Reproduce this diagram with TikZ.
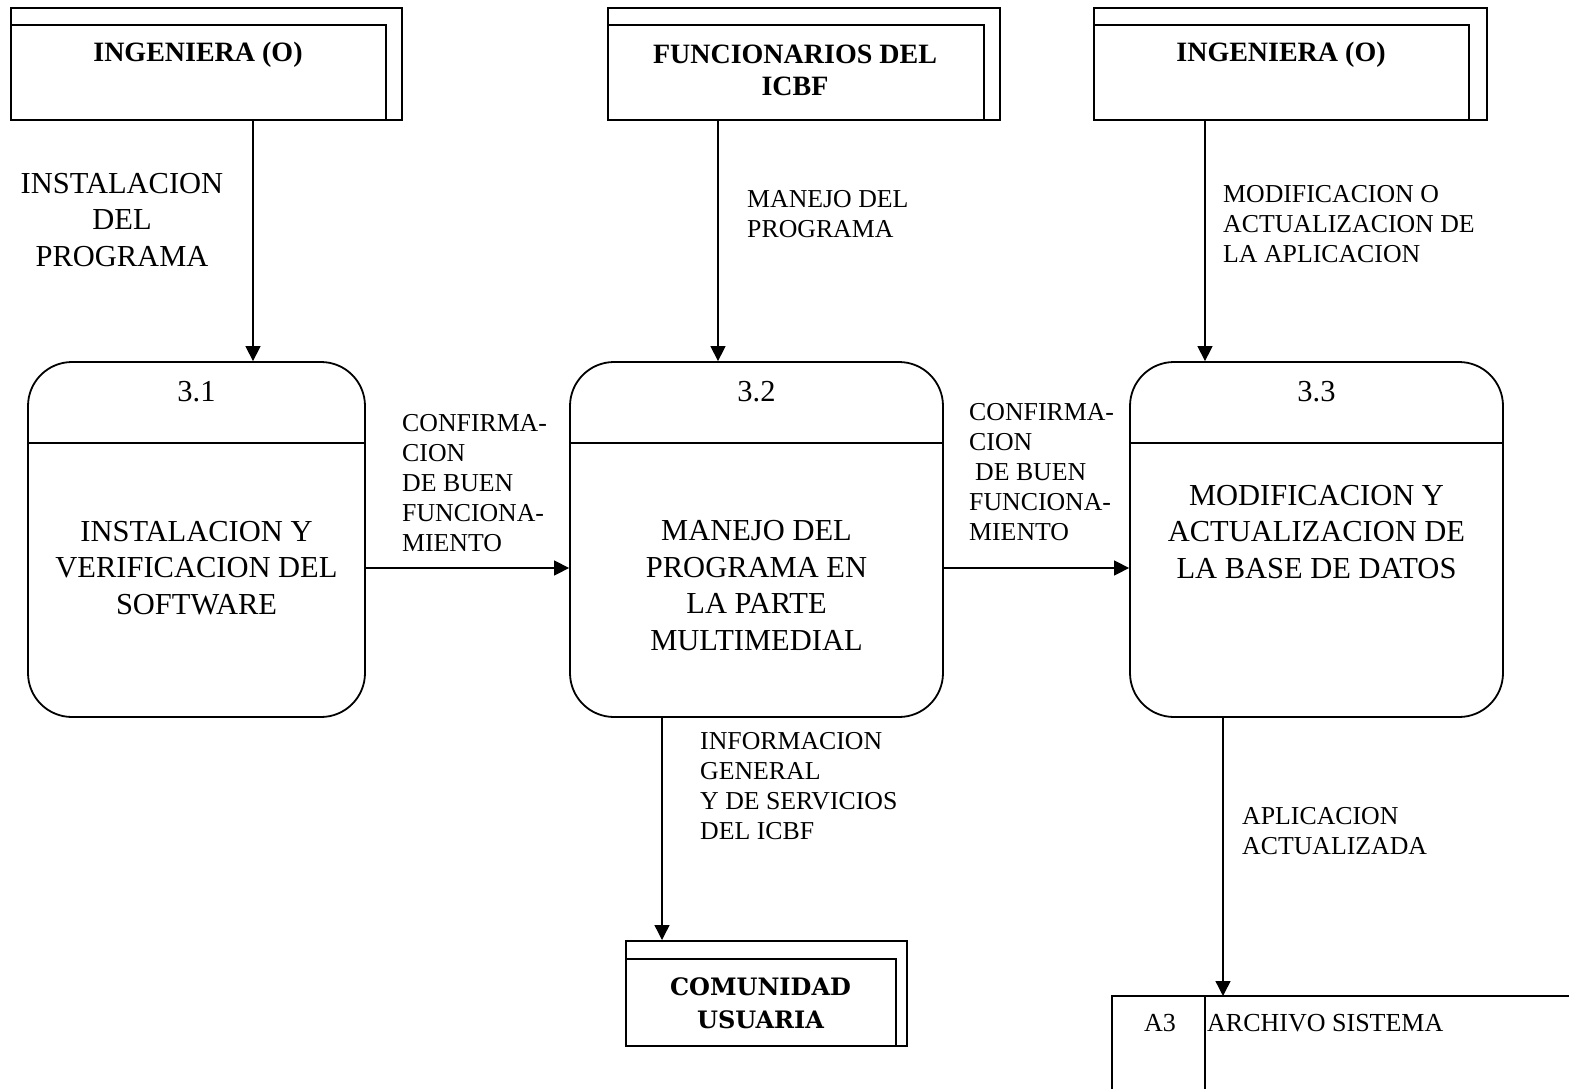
\documentclass[tikz,border=0pt]{standalone}
\usepackage{fontspec}
\setmainfont{Liberation Serif}
\newfontfamily\comfont{DejaVu Serif}
\usetikzlibrary{arrows.meta}
\begin{document}
\begin{tikzpicture}[x=1pt,y=-1pt,
  ent/.style={draw, line width=1.8pt, anchor=north west, inner sep=0pt},
  innerln/.style={line width=1.1pt},
  proc/.style={draw, line width=1.8pt, rounded corners=44pt, inner sep=0pt, minimum height=355pt},
  divln/.style={line width=1.5pt},
  flow/.style={line width=1.4pt, -{Triangle[length=15pt,width=15pt]}},
  big/.style={font=\fontsize{30.5}{36.5}\selectfont, align=center, inner sep=0pt},
  lbl/.style={font=\fontsize{25.8}{30}\selectfont, align=left, inner sep=0pt, anchor=west},
  enttxt/.style={font=\fontsize{28}{31.5}\selectfont\bfseries, align=center, inner sep=0pt},
]
\useasboundingbox (0,0) rectangle (1569,1089);

% external entities (top)
\node[ent, minimum width=391pt, minimum height=112pt] (e1) at (10,7) {};
\draw[innerln] (10,25) -- (386,25) -- (386,119);
\node[enttxt] (e1t) at (198,55) {INGENIERA (O)};

\node[ent, minimum width=392pt, minimum height=112pt] (e2) at (607,7) {};
\draw[innerln] (607,25) -- (984,25) -- (984,119);
\node[enttxt] (e2t) at (795,70.5) {FUNCIONARIOS DEL\\ICBF};

\node[ent, minimum width=393pt, minimum height=112pt] (e3) at (1093,7) {};
\draw[innerln] (1093,25) -- (1469,25) -- (1469,119);
\node[enttxt] (e3t) at (1281,55) {INGENIERA (O)};

% processes
\node[proc, minimum width=337pt] (p1) at (196.5,539.5) {};
\draw[divln] (p1.west |- {(0,443)}) -- (p1.east |- {(0,443)});
\node[big] (p1n) at (196.5,392) {3.1};
\node[big] (p1t) at (196.5,568) {INSTALACION Y\\VERIFICACION DEL\\SOFTWARE};

\node[proc, minimum width=373pt] (p2) at (756.5,539.5) {};
\draw[divln] (p2.west |- {(0,443)}) -- (p2.east |- {(0,443)});
\node[big] (p2n) at (756.5,392) {3.2};
\node[big] (p2t) at (756.5,585.5) {MANEJO DEL\\PROGRAMA EN\\LA PARTE\\MULTIMEDIAL};

\node[proc, minimum width=373pt] (p3) at (1316.5,539.5) {};
\draw[divln] (p3.west |- {(0,443)}) -- (p3.east |- {(0,443)});
\node[big] (p3n) at (1316.5,392) {3.3};
\node[big] (p3t) at (1316.5,532) {MODIFICACION Y\\ACTUALIZACION DE\\LA BASE DE DATOS};

% comunidad usuaria
\node[ent, minimum width=281pt, minimum height=105pt] (cu) at (625,940) {};
\draw[innerln] (625,959) -- (896,959) -- (896,1045);
\node[font=\comfont\fontsize{24}{33}\selectfont\bfseries, align=center, inner sep=0pt] (cut) at (760.5,1003) {COMUNIDAD\\USUARIA};

% archivo
\coordinate (a3top) at (1223,996);
\draw[line width=1.8pt] (1569,996) -- (1112,996) -- (1112,1089);
\draw[line width=1.5pt] (1205,996) -- (1205,1089);
\node[font=\fontsize{26}{30}\selectfont, inner sep=0pt, anchor=west] (a3) at (1144,1023) {A3};
\node[font=\fontsize{26}{30}\selectfont, inner sep=0pt, anchor=west] (a3t) at (1207,1023) {ARCHIVO SISTEMA};

% flows
\draw[flow] (e1.south -| {(253,0)}) -- (p1.north -| {(253,0)});
\draw[flow] (e2.south -| {(718,0)}) -- (p2.north -| {(718,0)});
\draw[flow] (e3.south -| {(1205,0)}) -- (p3.north -| {(1205,0)});
\draw[flow] (p1.east |- {(0,568)}) -- (p2.west |- {(0,568)});
\draw[flow] (p2.east |- {(0,568)}) -- (p3.west |- {(0,568)});
\draw[flow] (p2.south -| {(662,0)}) -- (cu.north -| {(662,0)});
\draw[flow] (p3.south -| a3top) -- (a3top);

% labels
\node[big] (l1) at (122,220) {INSTALACION\\DEL\\PROGRAMA};
\node[lbl] (l2) at (747,214.5) {MANEJO DEL\\PROGRAMA};
\node[lbl] (l3) at (1223,224) {MODIFICACION O\\ACTUALIZACION DE\\LA APLICACION};
\node[lbl] (l4) at (402,483) {CONFIRMA-\\CION\\DE BUEN\\FUNCIONA-\\MIENTO};
\node[lbl] (l5) at (969,472) {CONFIRMA-\\CION\\\hspace*{6pt}DE BUEN\\FUNCIONA-\\MIENTO};
\node[lbl] (l6) at (700,786) {INFORMACION\\GENERAL\\Y DE SERVICIOS\\DEL ICBF};
\node[lbl] (l7) at (1242,831) {APLICACION\\ACTUALIZADA};
\end{tikzpicture}
\end{document}
